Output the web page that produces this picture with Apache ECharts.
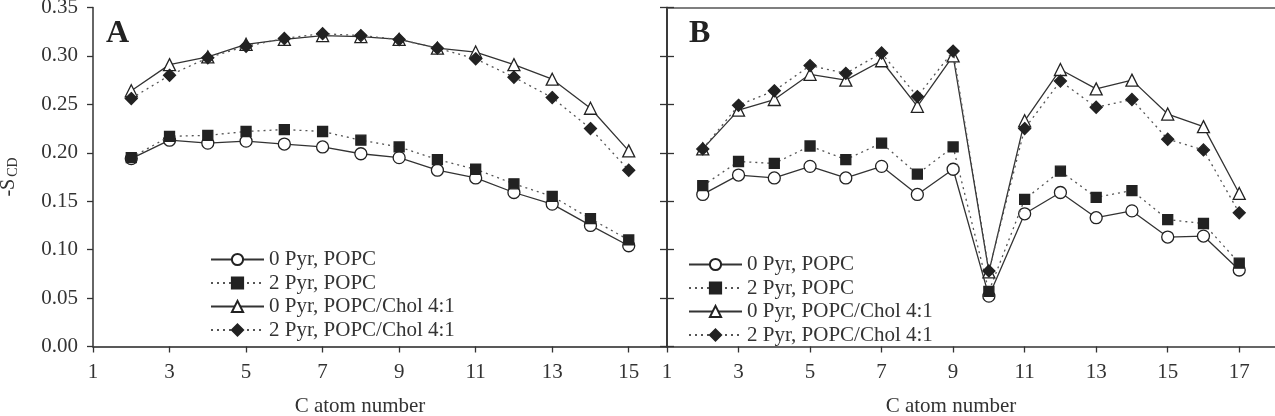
<!DOCTYPE html>
<html>
<head>
<meta charset="utf-8">
<script src="https://cdn.jsdelivr.net/npm/echarts@6/dist/echarts.min.js"></script>
<style>
  html, body { margin: 0; padding: 0; background: #fff; }
  #chart { width: 1275px; height: 416px; }
</style>
</head>
<body>
<div id="chart"></div>
<script>
// panel A: carbon atoms 2..15
var atomsA = [2, 3, 4, 5, 6, 7, 8, 9, 10, 11, 12, 13, 14, 15];
var popcA = [0.194, 0.213, 0.210, 0.212, 0.209, 0.206, 0.199, 0.195, 0.182, 0.174, 0.159, 0.147, 0.125, 0.104];
var pyrPopcA = [0.195, 0.217, 0.218, 0.222, 0.224, 0.222, 0.213, 0.206, 0.193, 0.183, 0.168, 0.155, 0.132, 0.110];
var cholA = [0.264, 0.291, 0.299, 0.312, 0.317, 0.321, 0.320, 0.317, 0.308, 0.304, 0.291, 0.276, 0.246, 0.202];
var pyrCholA = [0.256, 0.280, 0.298, 0.310, 0.318, 0.323, 0.321, 0.317, 0.308, 0.297, 0.278, 0.257, 0.225, 0.182];

// panel B: carbon atoms 2..17
var atomsB = [2, 3, 4, 5, 6, 7, 8, 9, 10, 11, 12, 13, 14, 15, 16, 17];
var popcB = [0.157, 0.177, 0.174, 0.186, 0.174, 0.186, 0.157, 0.183, 0.052, 0.137, 0.159, 0.133, 0.140, 0.113, 0.114, 0.079];
var pyrPopcB = [0.166, 0.191, 0.189, 0.207, 0.193, 0.210, 0.178, 0.206, 0.057, 0.152, 0.181, 0.154, 0.161, 0.131, 0.127, 0.086];
var cholB = [0.204, 0.244, 0.255, 0.281, 0.275, 0.295, 0.248, 0.300, 0.077, 0.233, 0.286, 0.266, 0.275, 0.240, 0.227, 0.158];
var pyrCholB = [0.204, 0.249, 0.264, 0.290, 0.282, 0.303, 0.258, 0.305, 0.078, 0.225, 0.274, 0.247, 0.255, 0.214, 0.203, 0.138];

var names = ['0 Pyr, POPC', '2 Pyr, POPC', '0 Pyr, POPC/Chol 4:1', '2 Pyr, POPC/Chol 4:1'];
var xTicks = { min: 1, interval: 2 };
var yTicks = { min: 0, max: 0.35, interval: 0.05 };

var FONT = 'Liberation Serif';
var INK = '#333';

function pairs(xs, ys) {
  return xs.map(function (x, i) { return [x, ys[i]]; });
}

// the four marker/line styles, same in both panels
var styles = [
  { symbol: 'circle', symbolSize: 12, fill: '#fff', dash: 'solid', line: INK },
  { symbol: 'rect', symbolSize: 10, fill: '#222', dash: [2, 4], line: '#555' },
  { symbol: 'triangle', symbolSize: 12, fill: '#fff', dash: 'solid', line: INK },
  { symbol: 'diamond', symbolSize: 12, fill: '#222', dash: [2, 4], line: '#555' }
];

function makeSeries(grid, xs, sets) {
  return sets.map(function (ys, k) {
    var s = styles[k];
    return {
      name: names[k],
      type: 'line',
      xAxisIndex: grid * 2,
      yAxisIndex: grid === 0 ? 0 : 2,
      data: pairs(xs, ys),
      symbol: s.symbol,
      symbolSize: s.symbolSize,
      showAllSymbol: true,
      itemStyle: { color: s.fill, borderColor: '#222', borderWidth: 1.3 },
      lineStyle: { color: s.line, width: 1.3, type: s.dash },
      z: 3 + k,
      animation: false
    };
  });
}

function bottomAxis(grid, max, shift) {
  return {
    type: 'value', gridIndex: grid, position: 'bottom',
    min: xTicks.min, max: max, interval: xTicks.interval,
    name: 'C atom number', nameLocation: 'middle', nameGap: 49,
    nameTextStyle: { fontFamily: FONT, fontSize: 21, color: INK, padding: [0, shift, 0, 0] },
    axisLine: { lineStyle: { color: INK, width: 1.5 } },
    axisTick: { length: 6, lineStyle: { color: INK, width: 1.3 } },
    axisLabel: { fontFamily: FONT, fontSize: 21, color: INK, margin: 15, showMaxLabel: false },
    splitLine: { show: false }
  };
}

function topAxis(grid, max) {
  return {
    type: 'value', gridIndex: grid, position: 'top',
    min: xTicks.min, max: max, interval: xTicks.interval,
    axisLine: { lineStyle: { color: '#555', width: 1.5 } },
    axisTick: { show: false }, axisLabel: { show: false }, splitLine: { show: false }
  };
}

function innerY(grid, pos) {
  return {
    type: 'value', gridIndex: grid, position: pos,
    min: yTicks.min, max: yTicks.max, interval: yTicks.interval,
    axisLine: { show: true, lineStyle: { color: INK, width: 1.6 } },
    axisTick: { show: true, inside: true, length: 7, lineStyle: { color: INK, width: 1.3 } },
    axisLabel: { show: false }, splitLine: { show: false }
  };
}

function legendAt(left, top) {
  return {
    left: left, top: top, orient: 'vertical', padding: 0,
    itemWidth: 53, itemHeight: 14, itemGap: 2.5,
    textStyle: { fontFamily: FONT, fontSize: 21, color: INK },
    data: names, selectedMode: false
  };
}

var chart = echarts.init(document.getElementById('chart'), null, { renderer: 'canvas' });

chart.setOption({
  backgroundColor: '#fff',
  animation: false,
  grid: [
    { left: 93, top: 7.5, width: 574, height: 339, outerBoundsMode: 'none' },
    { left: 667, top: 7.5, width: 608, height: 339, outerBoundsMode: 'none' }
  ],
  xAxis: [bottomAxis(0, 16, 40), topAxis(0, 16), bottomAxis(1, 18, 40), topAxis(1, 18)],
  yAxis: [
    {
      type: 'value', gridIndex: 0, position: 'left',
      min: yTicks.min, max: yTicks.max, interval: yTicks.interval,
      name: '{s|-S}{sub|CD}', nameLocation: 'middle', nameGap: 73,
      nameTextStyle: {
        color: INK,
        rich: {
          s: { fontFamily: FONT, fontSize: 20, color: INK },
          sub: { fontFamily: FONT, fontSize: 14, color: INK, padding: [8, 0, 0, 2] }
        }
      },
      axisLine: { lineStyle: { color: INK, width: 1.5 } },
      axisTick: { length: 6, lineStyle: { color: INK, width: 1.3 } },
      axisLabel: {
        fontFamily: FONT, fontSize: 21, color: INK, margin: 15,
        formatter: function (v) { return v.toFixed(2); }
      },
      splitLine: { show: false }
    },
    innerY(0, 'right'),
    innerY(1, 'left')
  ],
  legend: [legendAt(210, 249), legendAt(688, 254)],
  graphic: [
    { type: 'text', left: 106, top: 18, style: { text: 'A', font: 'bold 32px "Liberation Serif"', fill: '#222' } },
    { type: 'text', left: 689, top: 18, style: { text: 'B', font: 'bold 32px "Liberation Serif"', fill: '#222' } }
  ],
  series: makeSeries(0, atomsA, [popcA, pyrPopcA, cholA, pyrCholA])
    .concat(makeSeries(1, atomsB, [popcB, pyrPopcB, cholB, pyrCholB]))
});
</script>
</body>
</html>
